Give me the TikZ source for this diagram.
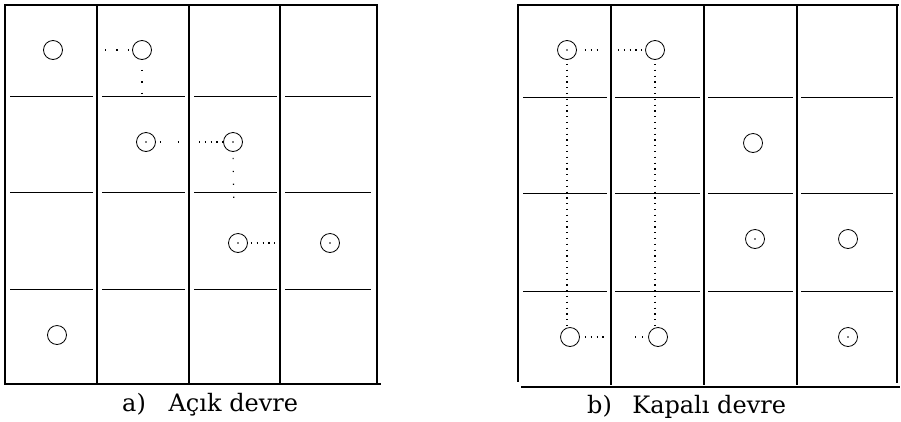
\documentclass[tikz,border=0pt]{standalone}
\usepackage{fontspec}
\setmainfont{DejaVu Serif}
\begin{document}
\begin{tikzpicture}[x=1pt,y=-1pt,
  border/.style={line width=2.6pt},
  edge/.style={line width=1.7pt},
  vline/.style={line width=1.1pt},
  hline/.style={line width=0.9pt},
  cell/.style={circle,draw,line width=0.8pt,minimum size=19pt,inner sep=0pt},
  dense/.style={line width=1.2pt,dash pattern=on 1.2pt off 4.6pt},
  mid/.style={line width=1.2pt,dash pattern=on 1.2pt off 10.2pt},
  wide/.style={line width=1.2pt,dash pattern=on 1.2pt off 16.8pt},
  caption/.style={font=\fontsize{24}{28}\selectfont,anchor=base west,inner sep=0pt}]
\useasboundingbox (0,0) rectangle (901,421);

% ---------- left grid ----------
\draw[border] (5,4) -- (5,385);
\draw[border] (377,4) -- (377,384);
\draw[edge] (5,5) -- (378,5);
\draw[edge] (5,384) -- (381,384);
\foreach \x in {97,189,280} \draw[vline] (\x,5) -- (\x,384);
\foreach \y in {96,192,289}
  \foreach \a/\b in {10/93,102/185,194/277,285/371}
    \draw[hline] (\a,\y) -- (\b,\y);

% ---------- right grid ----------
\draw[border] (518,4) -- (518,382);
\draw[border] (897,4) -- (897,383);
\draw[edge] (518,5) -- (899,5);
\draw[edge] (521,387) -- (900,387);
\foreach \x in {611,704,797} \draw[vline] (\x,5) -- (\x,385);
\foreach \y in {97,193,291}
  \foreach \a/\b in {523/607,615/700,708/793,801/893}
    \draw[hline] (\a,\y) -- (\b,\y);

% ---------- circles, left ----------
\node[cell] (c1) at (53,50) {};
\node[cell] (c2) at (142,50) {};
\node[cell] (c3) at (146,142) {};
\node[cell] (c4) at (233,142) {};
\node[cell] (c5) at (238,243) {};
\node[cell] (c6) at (330,243) {};
\node[cell] (c7) at (57,335) {};
\foreach \n in {c3,c4,c5,c6} \fill (\n) circle (0.9pt);

% ---------- circles, right ----------
\node[cell] (rA) at (567,50) {};
\node[cell] (rB) at (655,50) {};
\node[cell] (rC) at (753,143) {};
\node[cell] (rD) at (755,239) {};
\node[cell] (rE) at (848,239) {};
\node[cell] (rF) at (570,337) {};
\node[cell] (rG) at (658,337) {};
\node[cell] (rH) at (848,337) {};
\foreach \n in {rA,rD,rH} \fill (\n) circle (0.8pt);

% ---------- dotted connectors, left ----------
\coordinate (l1) at (105,50);
\coordinate (l2) at (142,104);
\coordinate (l3) at (180,142);
\coordinate (l4) at (199,142);
\coordinate (l5) at (234,209);
\coordinate (l6) at (278,243);
\draw[mid] (l1) -- (c2.west);
\draw[mid,shorten <=10pt] (c2.south) -- (l2);
\draw[wide,shorten <=4pt] (c3.east) -- (l3);
\draw[dense] (l4) -- (c4.west);
\draw[line width=1.2pt,dash pattern=on 1.2pt off 11.7pt,shorten <=6pt] (c4.south) -- (l5);
\draw[dense,shorten <=3pt] (c5.east) -- (l6);

% ---------- dotted connectors, right ----------
\coordinate (r1) at (599,50);
\coordinate (r2) at (618,50);
\coordinate (r3) at (606,337);
\coordinate (r4) at (635,337);
\draw[dense,shorten <=8pt] (rA.east) -- (r1);
\draw[dense] (r2) -- (rB.west);
\draw[dense,shorten <=4pt,shorten >=2pt] (rA.south) -- (rA.south |- rF.north);
\draw[dense,shorten <=4pt,shorten >=2pt] (rB.south) -- (rB.south |- rG.north);
\draw[dense,shorten <=5pt] (rF.east) -- (r3);
\draw[line width=1.2pt,dash pattern=on 1.2pt off 5.8pt] (r4) -- (rG.west);

% ---------- captions ----------
\node[caption] (capa) at (122,411) {a)\hspace{0.95em}Açık devre};
\node[caption] (capb) at (587,413) {b)\hspace{0.85em}Kapalı devre};
\end{tikzpicture}
\end{document}
